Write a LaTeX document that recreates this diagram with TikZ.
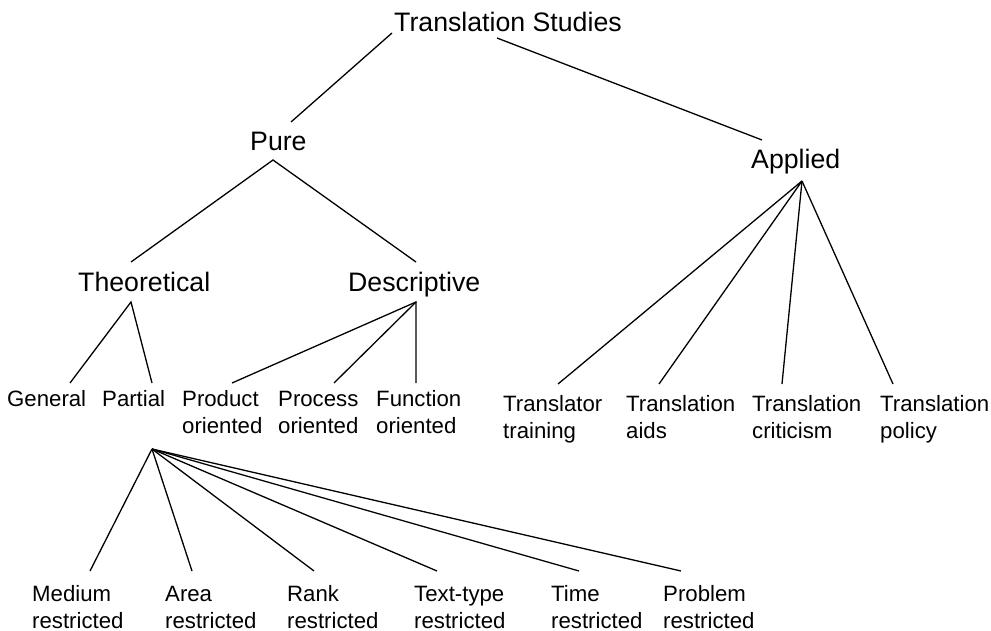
\documentclass[tikz,border=0pt]{standalone}
\usepackage{fontspec}
\setmainfont{Liberation Sans}
\begin{document}
\begin{tikzpicture}[x=1pt,y=-1pt,
  big/.style={inner sep=0pt,anchor=base west,font=\fontsize{26.7}{30}\selectfont},
  small/.style={inner sep=0pt,anchor=base west,align=left,font=\fontsize{22.2}{27}\selectfont},
  edge/.style={line width=1.3pt}]
\useasboundingbox (0,0) rectangle (991,631);
% nodes (two-line nodes are placed by the baseline of their last line)
\node[big] (ts) at (394,32) {Translation Studies};
\node[big] (pure) at (250,151) {Pure};
\node[big] (applied) at (751,169) {Applied};
\node[big] (theo) at (78,291) {Theoretical};
\node[big] (desc) at (348,291) {Descriptive};
\node[small] (general) at (7,406) {General};
\node[small] (partial) at (102,406) {Partial};
\node[small] (product) at (182,433) {Product\\oriented};
\node[small] (process) at (278,433) {Process\\oriented};
\node[small] (function) at (376,433) {Function\\oriented};
\node[small] (training) at (503,438) {Translator\\training};
\node[small] (aids) at (626,438) {Translation\\aids};
\node[small] (criticism) at (752,438) {Translation\\criticism};
\node[small] (policy) at (880,438) {Translation\\policy};
\node[small] (medium) at (32,628) {Medium\\restricted};
\node[small] (area) at (165,628) {Area\\restricted};
\node[small] (rank) at (287,628) {Rank\\restricted};
\node[small] (texttype) at (414,628) {Text-type\\restricted};
\node[small] (time) at (551,628) {Time\\restricted};
\node[small] (problem) at (663,628) {Problem\\restricted};
% connector end points
\coordinate (ts-l) at (392,33);
\coordinate (ts-r) at (497,38);
\coordinate (pure-t) at (291,122);
\coordinate (pure-b) at (273,160);
\coordinate (applied-t) at (762,140);
\coordinate (applied-b) at (802,181);
\coordinate (theo-t) at (131,262);
\coordinate (theo-b) at (131,302);
\coordinate (desc-t) at (416,262);
\coordinate (desc-b) at (416,302);
\coordinate (general-t) at (70,383);
\coordinate (partial-t) at (152,383);
\coordinate (partial-b) at (152,449);
\coordinate (product-t) at (232,383);
\coordinate (process-t) at (334,383);
\coordinate (function-t) at (416,383);
\coordinate (training-t) at (558,384);
\coordinate (aids-t) at (659,384);
\coordinate (criticism-t) at (782,384);
\coordinate (policy-t) at (893,384);
\coordinate (medium-t) at (90,571);
\coordinate (area-t) at (192,571);
\coordinate (rank-t) at (314,571);
\coordinate (texttype-t) at (437,571);
\coordinate (time-t) at (579,571);
\coordinate (problem-t) at (681,571);
% connectors
\draw[edge] (ts-l) -- (pure-t);
\draw[edge] (ts-r) -- (applied-t);
\draw[edge] (theo-t) -- (pure-b) -- (desc-t);
\draw[edge] (general-t) -- (theo-b) -- (partial-t);
\draw[edge] (product-t) -- (desc-b) -- (function-t);
\draw[edge] (desc-b) -- (process-t);
\foreach \c in {training,aids,criticism,policy}
  \draw[edge] (applied-b) -- (\c-t);
\foreach \c in {medium,area,rank,texttype,time,problem}
  \draw[edge] (partial-b) -- (\c-t);
\end{tikzpicture}
\end{document}
